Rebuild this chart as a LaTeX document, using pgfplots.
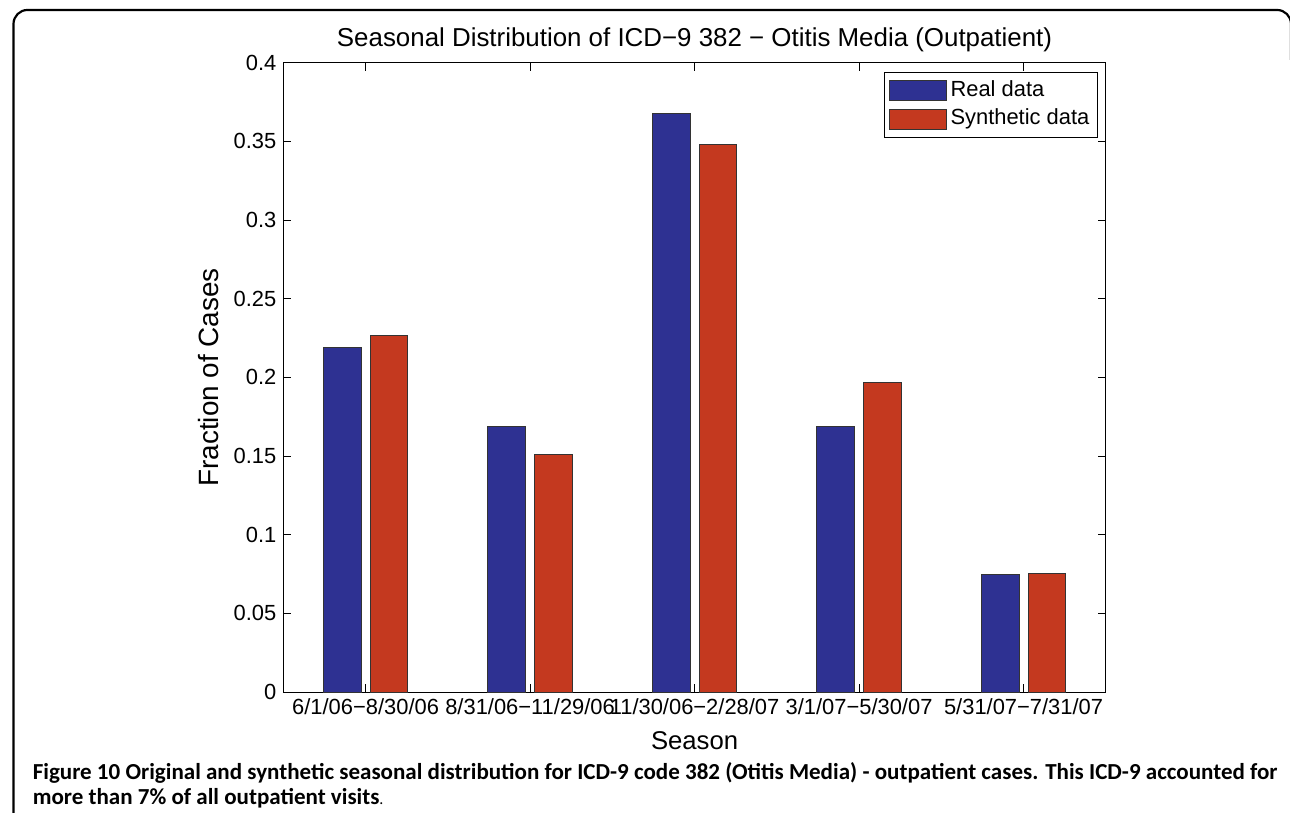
\documentclass[border=0pt]{standalone}
\usepackage{pgfplots}
\pgfplotsset{compat=1.18}
\usepackage{fontspec}
\setmainfont{Liberation Sans}
\newfontfamily\capfont{Carlito}
\definecolor{realc}{RGB}{46,49,146}
\definecolor{sync}{RGB}{196,57,31}
\newlength\capw
\begin{document}
\settowidth\capw{\capfont\bfseries\fontsize{11.5}{14}\selectfont Figure 10 Original and synthetic seasonal distribution for ICD-9 code 382 (Otitis Media) - outpatient cases. This ICD-9 accounted for}
\begin{tikzpicture}[x=0.5pt,y=0.5pt]
\path[use as bounding box] (0,0) rectangle (1290,-816);
\begin{scope}
\clip (0,0) rectangle (1290,-816);
\draw[line width=1.1pt, rounded corners=7pt] (8,-830) -- (8,-10) -- (1291,-10) -- (1291,-60);
\end{scope}
\begin{axis}[
  at={(139.5pt,-347.5pt)}, anchor=south west,
  scale only axis, width=413pt, height=316pt,
  xmin=0.5, xmax=5.5, ymin=0, ymax=0.4,
  ybar, bar width=19pt,
  xtick={1,2,3,4,5},
  xticklabels={6/1/06−8/30/06, 8/31/06−11/29/06, 11/30/06−2/28/07, 3/1/07−5/30/07, 5/31/07−7/31/07},
  ytick={0,0.05,0.1,0.15,0.2,0.25,0.3,0.35,0.4},
  yticklabels={0,0.05,0.1,0.15,0.2,0.25,0.3,0.35,0.4},
  tick align=inside, xtick pos=both, ytick pos=both,
  xticklabel pos=lower, yticklabel pos=left,
  major tick length=4pt,
  tick style={black, line width=0.5pt},
  axis line style={line width=0.5pt},
  font=\fontsize{11}{13}\selectfont,
  title={Seasonal Distribution of ICD−9 382 − Otitis Media (Outpatient)},
  title style={at={(0.5,1.0175)}, anchor=center, font=\fontsize{13}{15}\selectfont},
  xlabel={Season},
  xlabel style={at={(axis description cs:0.5,-0.0775)}, anchor=center, font=\fontsize{12.9}{15}\selectfont},
  ylabel={Fraction of Cases},
  ylabel style={at={(axis description cs:-0.0907,0.5)}, anchor=center, font=\fontsize{14}{16}\selectfont},
  legend image code/.code={\draw[#1, draw=black!80, line width=0.5pt] (0pt,-5pt) rectangle (28.5pt,5pt);},
  legend style={at={(1,1)}, anchor=north east, xshift=-4pt, yshift=-4.5pt,
    draw=black, line width=0.5pt, inner xsep=2pt, inner ysep=3pt,
    nodes={inner ysep=1pt, inner xsep=2pt, text height=8pt, text depth=2.5pt},
    row sep=2pt, font=\fontsize{11}{13}\selectfont},
  legend cell align=left,
]
\addplot[bar shift=-11.75pt, fill=realc, draw=black!80, line width=0.5pt] coordinates {(1,0.219) (2,0.1685) (3,0.3677) (4,0.1685) (5,0.0747)};
\addplot[bar shift=11.75pt, fill=sync, draw=black!80, line width=0.5pt] coordinates {(1,0.2268) (2,0.1513) (3,0.3482) (4,0.1970) (5,0.0753)};
\legend{Real data, Synthetic data}
\end{axis}
\pgfmathsetmacro\capsc{625/\capw}
\node[anchor=base west, inner sep=0pt] at (27,-783) {\scalebox{\capsc}[1]{\capfont\bfseries\fontsize{11.5}{14}\selectfont Figure 10 Original and synthetic seasonal distribution for ICD-9 code 382 (Otitis Media) - outpatient cases. This ICD-9 accounted for}};
\node[anchor=base west, inner sep=0pt] at (27,-808) {\scalebox{\capsc}[1]{\capfont\fontsize{11.5}{14}\selectfont\textbf{more than 7\% of all outpatient visits}{\fontsize{8}{10}\selectfont.}}};
\end{tikzpicture}
\end{document}
